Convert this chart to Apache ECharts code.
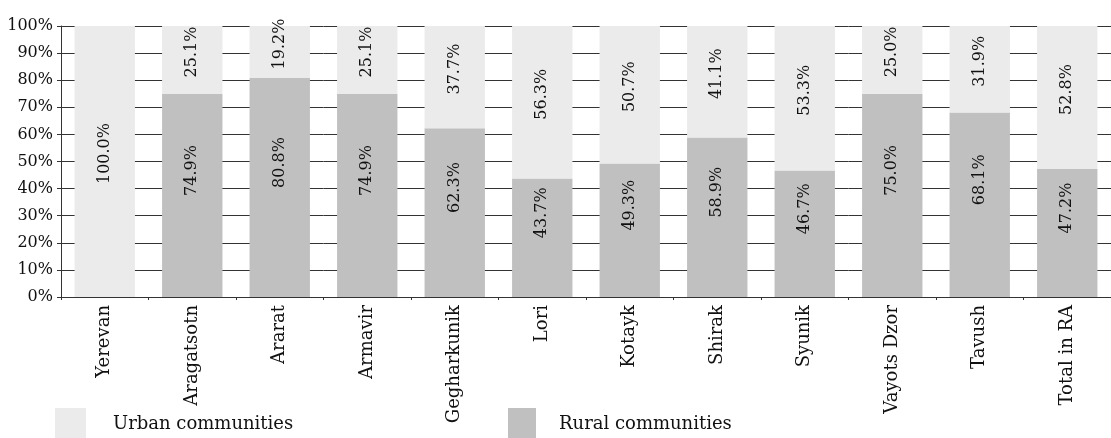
<!DOCTYPE html>
<html>
<head>
<meta charset="utf-8">
<script src="https://cdn.jsdelivr.net/npm/echarts@6/dist/echarts.min.js"></script>
<style>
  html, body { margin: 0; padding: 0; background: #fff; }
  #chart { width: 1111px; height: 438px; }
</style>
</head>
<body>
<div id="chart"></div>
<script>
// regions
const regions = ["Yerevan", "Aragatsotn", "Ararat", "Armavir", "Gegharkunik", "Lori",
  "Kotayk", "Shirak", "Syunik", "Vayots Dzor", "Tavush", "Total in RA"];
// share of rural communities, %
const rural = [0, 74.9, 80.8, 74.9, 62.3, 43.7, 49.3, 58.9, 46.7, 75.0, 68.1, 47.2];
// share of urban communities, %
const urban = [100.0, 25.1, 19.2, 25.1, 37.7, 56.3, 50.7, 41.1, 53.3, 25.0, 31.9, 52.8];
const yTicks = [0, 10, 20, 30, 40, 50, 60, 70, 80, 90, 100];

const serif = "DejaVu Serif";
let chart = echarts.init(document.getElementById("chart"));

// bar label: rotated, hidden for zero; shift moves it up along the bar
function barLabel(shift) {
  return {
    show: true,
    position: "inside",
    rotate: 90,
    offset: [shift, 0],
    color: "#111",
    fontFamily: serif,
    fontSize: 16,
    formatter: function (p) {
      return p.value ? p.value.toFixed(1) + "%" : "";
    },
  };
}

let legendText = { fontFamily: serif, fontSize: 18, color: "#111" };

let option = {
  animation: false,
  backgroundColor: "#fff",
  legend: [
    {
      data: ["Urban communities"],
      left: 55,
      top: 408,
      padding: 0,
      icon: "rect",
      itemWidth: 31,
      itemHeight: 32,
      textStyle: Object.assign({ padding: [0, 0, 0, 22] }, legendText),
    },
    {
      data: ["Rural communities"],
      left: 508,
      top: 408,
      padding: 0,
      icon: "rect",
      itemWidth: 28,
      itemHeight: 32,
      textStyle: Object.assign({ padding: [0, 0, 0, 18] }, legendText),
    },
  ],
  grid: { left: 61, top: 26, right: -10, bottom: 141, containLabel: false },
  xAxis: {
    type: "category",
    data: regions,
    axisLine: { lineStyle: { color: "#333", width: 1 } },
    axisTick: { show: true, length: 3, lineStyle: { color: "#333" } },
    axisLabel: {
      rotate: 90,
      margin: 8,
      fontFamily: serif,
      fontSize: 18,
      color: "#111",
    },
  },
  yAxis: {
    type: "value",
    min: 0,
    max: 100,
    interval: 10,
    axisLine: { show: true, lineStyle: { color: "#333", width: 1 } },
    axisTick: { show: true, length: 4, lineStyle: { color: "#333" } },
    splitLine: { show: true, lineStyle: { color: "#333", width: 1 } },
    axisLabel: {
      margin: 8,
      fontFamily: serif,
      fontSize: 16,
      color: "#111",
      formatter: function (v) {
        return yTicks.indexOf(v) >= 0 ? v + "%" : "";
      },
    },
  },
  series: [
    {
      name: "Rural communities",
      type: "bar",
      stack: "total",
      barWidth: "69%",
      data: rural,
      itemStyle: { color: "#c0c0c0" },
      label: barLabel(25),
      z: 3,
    },
    {
      name: "Urban communities",
      type: "bar",
      stack: "total",
      barWidth: "69%",
      data: urban,
      itemStyle: { color: "#ebebeb" },
      label: barLabel(8),
      z: 3,
    },
  ],
};

chart.setOption(option);
</script>
</body>
</html>
